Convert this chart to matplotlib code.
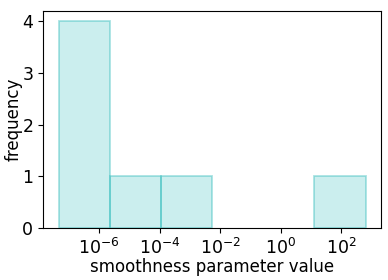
import numpy as np
import matplotlib
matplotlib.use("Agg")
import matplotlib.pyplot as plt
from matplotlib.ticker import NullLocator

# log10 bin edges and counts
bin_edges_log10 = [-7.34, -5.65, -3.96, -2.27, -0.58, 1.11, 2.80]
counts = [4, 1, 1, 0, 0, 1]

edges = 10.0 ** np.array(bin_edges_log10)

fig = plt.figure(figsize=(3.88, 2.80), dpi=100)
ax = fig.add_axes([0.111, 0.186, 0.871, 0.775])

face = (40/255, 185/255, 185/255, 0.24)
edge = (40/255, 185/255, 185/255, 0.40)
for i, c in enumerate(counts):
    if c == 0:
        continue
    ax.bar(edges[i], c, width=edges[i+1] - edges[i], align='edge',
           facecolor=face, edgecolor=edge, linewidth=1.3)

ax.set_xscale('log')
ax.set_xlim(10**-7.85, 10**3.31)
ax.set_ylim(0, 4.2)
ax.set_yticks([0, 1, 2, 3, 4])
ax.xaxis.set_minor_locator(NullLocator())
ax.tick_params(labelsize=12.5)
ax.set_xlabel('smoothness parameter value', fontsize=12, labelpad=0)
ax.set_ylabel('frequency', fontsize=12, labelpad=0)

fig.savefig('out.png', dpi=100)
